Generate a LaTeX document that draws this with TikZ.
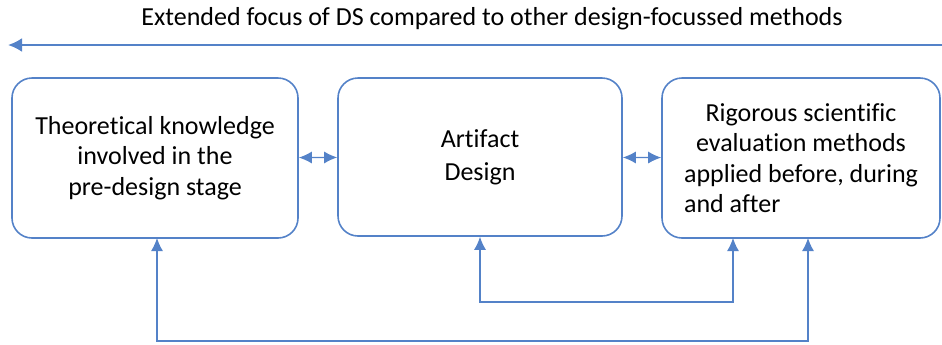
\documentclass[tikz,border=0pt]{standalone}
\usepackage{fontspec}
\setmainfont{Carlito}[Ligatures=CommonOff]
\usetikzlibrary{arrows.meta}
\definecolor{dsblue}{RGB}{84,130,200}

\begin{document}
\begin{tikzpicture}[x=0.5pt,y=-0.5pt,
	dsbox/.style={draw=dsblue,line width=0.8pt,rounded corners=10pt,
		minimum width=#1*0.5pt,minimum height=160*0.5pt,align=center,
		font=\fontsize{13}{15.2}\selectfont},
	dslink/.style={draw=dsblue,line width=0.6pt,{Latex[length=6.5pt,width=6pt]}-{Latex[length=6.5pt,width=6pt]}},
	>=Latex]
	\useasboundingbox (0,0) rectangle (942,344);
	% scope line
	\node (title) at (492,19) {\fontsize{13}{15}\selectfont Extended focus of DS compared to other design-focussed methods};
	\coordinate (sl) at (8,45);
	\coordinate (sr) at (942,45);
	\draw [draw=dsblue,line width=1.2pt,{Latex[length=7pt,width=7pt]}-] (sl) -- (sr);
	% the three stages
	\node [dsbox=286] (theory) at (155,158) {Theoretical knowledge\\involved in the\\pre-design stage};
	\node [dsbox=284,minimum height=158*0.5pt,font=\fontsize{13}{16.5}\selectfont] (artifact) at (480,157) {Artifact\\Design};
	\node [dsbox=278] (eval) at (801,158) {Rigorous scientific\\evaluation methods\\applied before, during\\\rlap{and after}\hphantom{applied before, during}};
	\draw [dslink] (theory) -- (artifact);
	\draw [dslink] (artifact) -- (eval);
	% feedback loops
	\coordinate (ea) at (733,238);
	\coordinate (eb) at (808,238);
	\coordinate (ta) at (157,238);
	\coordinate (la) at (480,302);
	\coordinate (lb) at (157,341);
	\draw [dslink] (artifact.south) -- (la) -| (ea);
	\draw [dslink] (ta) -- (lb) -| (eb);
\end{tikzpicture}
\end{document}
